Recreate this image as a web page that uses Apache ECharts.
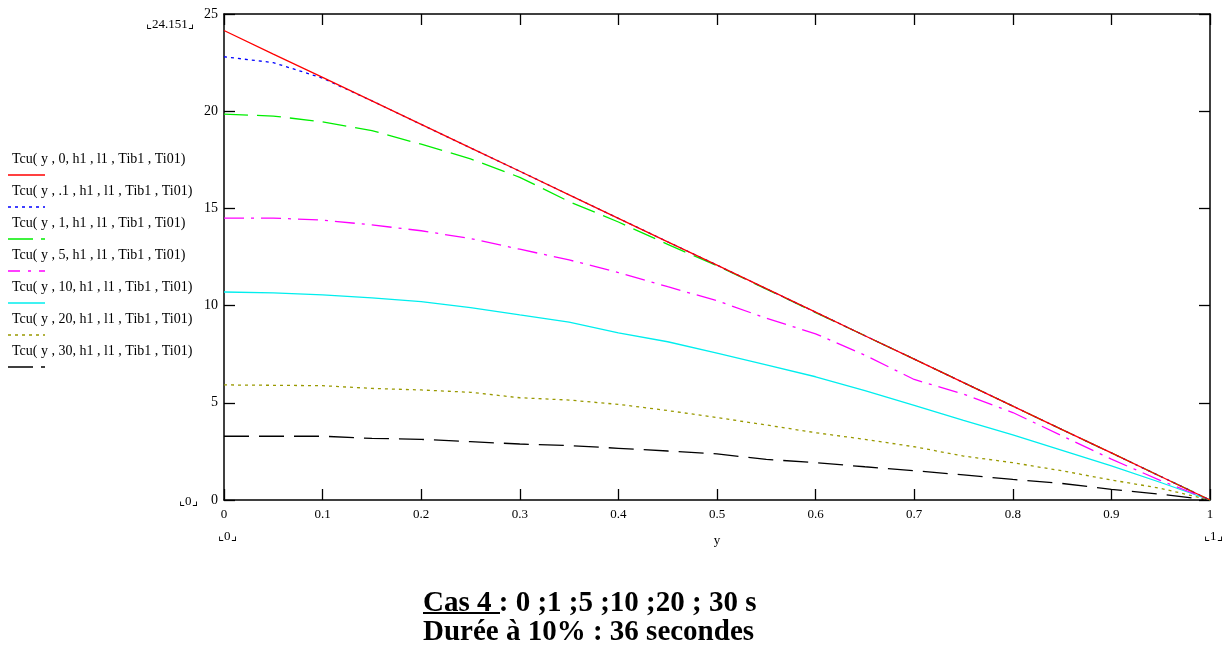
<!DOCTYPE html>
<html>
<head>
<meta charset="utf-8">
<script src="https://cdn.jsdelivr.net/npm/echarts@6/dist/echarts.min.js"></script>
<style>
  html, body { margin: 0; padding: 0; background: #fff; }
  #chart { width: 1229px; height: 646px; }
</style>
</head>
<body>
<div id="chart"></div>
<script>
// positions along y (0 .. 1, step 0.05)
const yPos = [0, 0.05, 0.1, 0.15, 0.2, 0.25, 0.3, 0.35, 0.4, 0.45, 0.5,
              0.55, 0.6, 0.65, 0.7, 0.75, 0.8, 0.85, 0.9, 0.95, 1];

// Tcu(y, t, ...)
const t0  = [24.151, 22.94, 21.74, 20.53, 19.32, 18.11, 16.91, 15.70, 14.49, 13.28, 12.08,
             10.87, 9.66, 8.45, 7.25, 6.04, 4.83, 3.62, 2.42, 1.21, 0];
const t01 = [22.8, 22.5, 21.7, 20.53, 19.32, 18.11, 16.91, 15.70, 14.49, 13.28, 12.08,
             10.87, 9.66, 8.45, 7.25, 6.04, 4.83, 3.62, 2.42, 1.21, 0];
const t1  = [19.85, 19.75, 19.45, 19.0, 18.3, 17.55, 16.6, 15.35, 14.3, 13.15, 12.05,
             10.85, 9.64, 8.45, 7.25, 6.04, 4.83, 3.62, 2.42, 1.21, 0];
const t5  = [14.5, 14.5, 14.4, 14.15, 13.85, 13.45, 12.9, 12.35, 11.7, 10.97, 10.25,
             9.35, 8.55, 7.45, 6.2, 5.45, 4.5, 3.3, 2.1, 1.0, 0];
const t10 = [10.7, 10.65, 10.55, 10.4, 10.2, 9.9, 9.52, 9.15, 8.6, 8.14, 7.56,
             6.95, 6.34, 5.62, 4.87, 4.1, 3.35, 2.55, 1.75, 0.9, 0];
const t20 = [5.92, 5.9, 5.88, 5.74, 5.66, 5.54, 5.26, 5.14, 4.92, 4.6, 4.24,
             3.86, 3.46, 3.12, 2.74, 2.26, 1.92, 1.5, 1.03, 0.6, 0];
const t30 = [3.28, 3.28, 3.28, 3.17, 3.12, 3.0, 2.88, 2.8, 2.66, 2.52, 2.37,
             2.09, 1.92, 1.71, 1.51, 1.29, 1.06, 0.85, 0.55, 0.3, 0];

const legendNames = [
  "Tcu( y , 0, h1 , l1 , Tib1 , Ti01)",
  "Tcu( y , .1 , h1 , l1 , Tib1 , Ti01)",
  "Tcu( y , 1, h1 , l1 , Tib1 , Ti01)",
  "Tcu( y , 5, h1 , l1 , Tib1 , Ti01)",
  "Tcu( y , 10, h1 , l1 , Tib1 , Ti01)",
  "Tcu( y , 20, h1 , l1 , Tib1 , Ti01)",
  "Tcu( y , 30, h1 , l1 , Tib1 , Ti01)"
];
const seriesData = [t0, t01, t1, t5, t10, t20, t30];

const FONT = "'Liberation Serif', 'DejaVu Serif', serif";
const styles = [
  { color: "#ff0000", type: "solid", dash: null },
  { color: "#0000ff", type: [3, 4], dash: [3, 4] },
  { color: "#00ee00", type: [24, 9], dash: [25, 8, 2, 0] },
  { color: "#ff00ff", type: [20, 7, 3, 7], dash: [12, 8, 3, 8] },
  { color: "#00eeee", type: "solid", dash: null },
  { color: "#999900", type: [3, 4], dash: [3, 4] },
  { color: "#000000", type: [25, 10], dash: [25, 8, 2, 0] }
];

let myChart = echarts.init(document.getElementById("chart"));

let series = seriesData.map((vals, i) => ({
  name: legendNames[i],
  type: "line",
  xAxisIndex: 0,
  yAxisIndex: 0,
  data: vals.map((v, k) => [yPos[k], v]),
  showSymbol: false,
  symbol: "none",
  lineStyle: { color: styles[i].color, width: 1.3, type: styles[i].type },
  z: 10 - i,
  animation: false
}));

// hand-drawn legend (text above the line sample)
let graphics = [];
legendNames.forEach((name, i) => {
  let y0 = 152 + i * 32;
  graphics.push({
    type: "text", left: 12, top: y0,
    style: { text: name, font: "14px " + FONT, fill: "#000" }
  });
  let ls = { stroke: styles[i].color, lineWidth: 1.5 };
  if (styles[i].dash) ls.lineDash = styles[i].dash;
  graphics.push({
    type: "line",
    shape: { x1: 8, y1: y0 + 23, x2: 45, y2: y0 + 23 },
    style: ls
  });
});

// Mathcad-style limit markers
const marks = [
  { text: "⌞24.151⌟", x: 146, y: 18 },
  { text: "⌞0⌟", x: 179, y: 495 },
  { text: "⌞0⌟", x: 218, y: 530 },
  { text: "⌞1⌟", x: 1204, y: 530 }
];
marks.forEach(m => graphics.push({
  type: "text", left: m.x, top: m.y,
  style: { text: m.text, font: "13px " + FONT, fill: "#000" }
}));

// caption
graphics.push({
  type: "text", left: 423, top: 589,
  style: { text: "Cas 4 : 0 ;1 ;5 ;10 ;20 ; 30 s", font: "bold 29px " + FONT, fill: "#000" }
});
graphics.push({
  type: "line", shape: { x1: 423, y1: 613, x2: 500, y2: 613 },
  style: { stroke: "#000", lineWidth: 2 }
});
graphics.push({
  type: "text", left: 423, top: 618,
  style: { text: "Durée à 10% : 36 secondes", font: "bold 29px " + FONT, fill: "#000" }
});

const axisLine = { show: true, onZero: false, lineStyle: { color: "#000", width: 1.5 } };
const axisTick = { show: true, inside: true, length: 11, lineStyle: { color: "#000", width: 1.3 } };

let options = {
  animation: false,
  backgroundColor: "#fff",
  grid: { left: 224, right: 19, top: 14, bottom: 146, containLabel: false },
  xAxis: [
    {
      type: "value", min: 0, max: 1, interval: 0.1, position: "bottom",
      name: "y", nameLocation: "middle", nameGap: 34,
      nameTextStyle: { color: "#000", fontFamily: FONT, fontSize: 13 },
      axisLine: axisLine, axisTick: axisTick,
      axisLabel: { color: "#000", fontFamily: FONT, fontSize: 13, margin: 8 },
      splitLine: { show: false }
    },
    {
      type: "value", min: 0, max: 1, interval: 0.1, position: "top",
      axisLine: axisLine, axisTick: axisTick,
      axisLabel: { show: false }, splitLine: { show: false }
    }
  ],
  yAxis: [
    {
      type: "value", min: 0, max: 25, interval: 5, position: "left",
      axisLine: axisLine, axisTick: axisTick,
      axisLabel: { color: "#000", fontFamily: FONT, fontSize: 14, margin: 6 },
      splitLine: { show: false }
    },
    {
      type: "value", min: 0, max: 25, interval: 5, position: "right",
      axisLine: axisLine, axisTick: axisTick,
      axisLabel: { show: false }, splitLine: { show: false }
    }
  ],
  series: series,
  graphic: graphics
};
myChart.setOption(options);
</script>
</body>
</html>
